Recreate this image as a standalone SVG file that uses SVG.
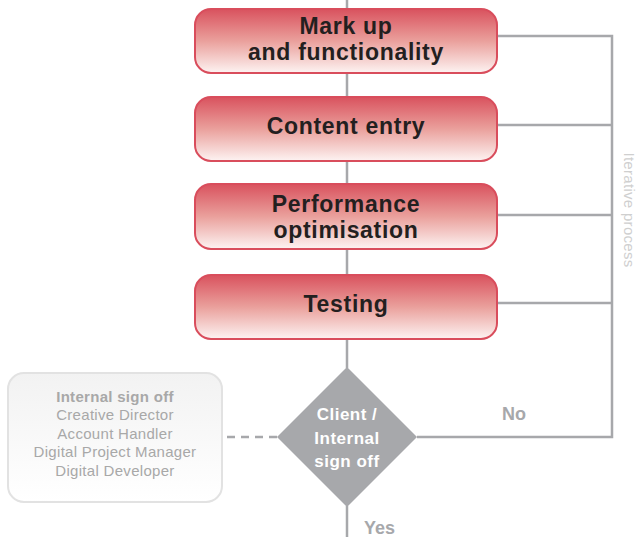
<svg xmlns="http://www.w3.org/2000/svg" width="638" height="537" viewBox="0 0 638 537">
<defs>
<linearGradient id="red" x1="0" y1="0" x2="0" y2="1">
<stop offset="0" stop-color="#d9525e"/>
<stop offset="0.5" stop-color="#eaa09c"/>
<stop offset="1" stop-color="#fdf3f2"/>
</linearGradient>
<linearGradient id="grey" x1="0" y1="0" x2="0" y2="1">
<stop offset="0" stop-color="#f2f2f2"/>
<stop offset="1" stop-color="#ffffff"/>
</linearGradient>
</defs>
<style>
.line{stroke:#a7a8ab;stroke-width:2.5;fill:none}
.dash{stroke:#a7a8ab;stroke-width:2.5;fill:none;stroke-dasharray:8,6}
.box{fill:url(#red);stroke:#d94d5c;stroke-width:2}
.bt{font-family:"Liberation Sans",Arial,sans-serif;font-weight:bold;font-size:23px;letter-spacing:0.7px;fill:#231f20;text-anchor:middle}
.gt{font-family:"Liberation Sans",Arial,sans-serif;font-size:15px;letter-spacing:0.3px;fill:#a8a8a8;text-anchor:middle}
.dt{font-family:"Liberation Sans",Arial,sans-serif;font-weight:bold;font-size:17px;letter-spacing:0.5px;fill:#ffffff;text-anchor:middle}
.lt{font-family:"Liberation Sans",Arial,sans-serif;font-weight:bold;font-size:18px;fill:#a7a8ab}
</style>
<g id="connectors">
<line class="line" x1="347" y1="0" x2="347" y2="368"/>
<line class="line" x1="347" y1="506" x2="347" y2="537"/>
<polyline class="line" points="497,36 612,36 612,437 417,437"/>
<line class="line" x1="497" y1="125" x2="612" y2="125"/>
<line class="line" x1="497" y1="215" x2="612" y2="215"/>
<line class="line" x1="497" y1="303" x2="612" y2="303"/>
<line class="dash" x1="277" y1="437" x2="222" y2="437"/>
<text class="lt" x="502" y="420">No</text>
<text class="lt" x="364" y="534">Yes</text>
<text transform="translate(624,210) rotate(90)" font-family="Liberation Sans, Arial, sans-serif" font-size="15" letter-spacing="0.3" fill="#cfcfcf" text-anchor="middle">Iterative process</text>
</g>
<g id="markup">
<rect class="box" x="195" y="9" width="302" height="64" rx="16"/>
<text class="bt" x="346" y="34">Mark up</text>
<text class="bt" x="346" y="60">and functionality</text>
</g>
<g id="content">
<rect class="box" x="195" y="97" width="302" height="64" rx="16"/>
<text class="bt" x="346" y="134">Content entry</text>
</g>
<g id="performance">
<rect class="box" x="195" y="184" width="302" height="65" rx="16"/>
<text class="bt" x="346" y="212">Performance</text>
<text class="bt" x="346" y="238">optimisation</text>
</g>
<g id="testing">
<rect class="box" x="195" y="275" width="302" height="64" rx="16"/>
<text class="bt" x="346" y="312">Testing</text>
</g>
<g id="decision">
<polygon points="347,367 417,437 347,507 277,437" fill="#a7a8ab"/>
<text class="dt" x="347" y="420">Client /</text>
<text class="dt" x="347" y="444">Internal</text>
<text class="dt" x="347" y="467">sign off</text>
</g>
<g id="internal">
<rect x="8" y="373" width="214" height="129" rx="16" fill="url(#grey)" stroke="#e2e2e2" stroke-width="2"/>
<text class="gt" x="115" y="402" font-weight="bold" fill="#9d9d9d">Internal sign off</text>
<text class="gt" x="115" y="420">Creative Director</text>
<text class="gt" x="115" y="439">Account Handler</text>
<text class="gt" x="115" y="457">Digital Project Manager</text>
<text class="gt" x="115" y="476">Digital Developer</text>
</g>
</svg>
